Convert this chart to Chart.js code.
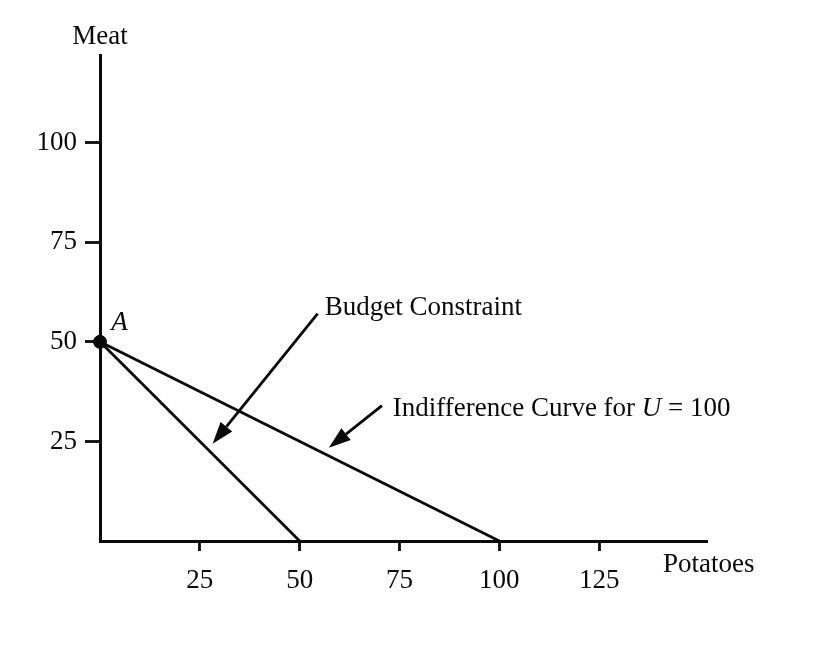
<!DOCTYPE html>
<html>
<head>
<meta charset="utf-8">
<script src="https://cdn.jsdelivr.net/npm/chart.js@4/dist/chart.umd.min.js"></script>
<style>
  html, body { margin: 0; padding: 0; background: #fff; }
</style>
</head>
<body>
<canvas id="chart" width="837" height="652"></canvas>
<script>
// Data (Potatoes on x, Meat on y)
const xTicks = [25, 50, 75, 100, 125];
const yTicks = [25, 50, 75, 100];
const budgetX = [0, 50];
const budgetY = [50, 0];
const indiffX = [0, 100];
const indiffY = [50, 0];
const pointA = [0, 50];

const FONT = 'Liberation Serif, Times New Roman, serif';
const SIZE = 27;
const INK = '#0a0a0a';

// Labels + arrows (positions in data units)
const notes = {
  budget: { text: 'Budget Constraint', x: 56.3, y: 58.4, from: [54.5, 57.1], to: [28.2, 24.4] },
  indiff: { x: 73.3, y: 33.2, from: [70.6, 34.0], to: [57.3, 23.4] }
};

function arrow(ctx, x1, y1, x2, y2) {
  const a = Math.atan2(y2 - y1, x2 - x1);
  const len = 22, hw = 7.5;
  const bx = x2 - len * Math.cos(a), by = y2 - len * Math.sin(a);
  ctx.beginPath();
  ctx.moveTo(x1, y1);
  ctx.lineTo(bx, by);
  ctx.stroke();
  ctx.beginPath();
  ctx.moveTo(x2, y2);
  ctx.lineTo(bx + hw * Math.sin(a), by - hw * Math.cos(a));
  ctx.lineTo(bx - hw * Math.sin(a), by + hw * Math.cos(a));
  ctx.closePath();
  ctx.fill();
}

const extras = {
  id: 'extras',
  afterDraw(chart) {
    const ctx = chart.ctx;
    const xs = chart.scales.x, ys = chart.scales.y;
    const px = v => xs.getPixelForValue(v), py = v => ys.getPixelForValue(v);
    ctx.save();
    ctx.fillStyle = INK;
    ctx.strokeStyle = INK;
    ctx.lineWidth = 2.8;
    ctx.textBaseline = 'middle';

    // axis titles
    ctx.font = SIZE + 'px ' + FONT;
    ctx.textAlign = 'center';
    ctx.fillText('Meat', xs.left, 37);
    ctx.textAlign = 'left';
    ctx.fillText('Potatoes', 663, 565);

    // point label
    ctx.font = 'italic ' + SIZE + 'px ' + FONT;
    ctx.fillText('A', px(2.8), py(54.8));

    // budget constraint note
    const b = notes.budget;
    ctx.font = SIZE + 'px ' + FONT;
    ctx.fillText(b.text, px(b.x), py(b.y));
    arrow(ctx, px(b.from[0]), py(b.from[1]), px(b.to[0]), py(b.to[1]));

    // indifference note with italic U
    const n = notes.indiff;
    let tx = px(n.x);
    const ty = py(n.y);
    const parts = [['Indifference Curve for ', ''], ['U', 'italic '], [' = 100', '']];
    parts.forEach(([s, st]) => {
      ctx.font = st + SIZE + 'px ' + FONT;
      ctx.fillText(s, tx, ty);
      tx += ctx.measureText(s).width;
    });
    arrow(ctx, px(n.from[0]), py(n.from[1]), px(n.to[0]), py(n.to[1]));
    ctx.restore();
  }
};

const toPts = (xa, ya) => xa.map((x, i) => ({ x: x, y: ya[i] }));

new Chart(document.getElementById('chart').getContext('2d'), {
  type: 'scatter',
  data: {
    datasets: [
      {
        label: 'Budget Constraint',
        data: toPts(budgetX, budgetY),
        showLine: true,
        borderColor: INK,
        borderWidth: 2.8,
        pointRadius: 0,
        clip: false
      },
      {
        label: 'Indifference Curve for U = 100',
        data: toPts(indiffX, indiffY),
        showLine: true,
        borderColor: INK,
        borderWidth: 2.8,
        pointRadius: 0,
        clip: false
      },
      {
        label: 'A',
        data: [{ x: pointA[0], y: pointA[1] }],
        backgroundColor: INK,
        borderColor: INK,
        pointRadius: 6.5,
        clip: false
      }
    ]
  },
  options: {
    responsive: false,
    animation: false,
    layout: { padding: { top: 55, right: 130, left: 0, bottom: 0 } },
    plugins: { legend: { display: false }, tooltip: { enabled: false } },
    scales: {
      x: {
        type: 'linear',
        min: 0,
        max: 152,
        afterBuildTicks: s => { s.ticks = xTicks.map(v => ({ value: v })); },
        afterFit: s => { s.height = 111; },
        grid: { drawOnChartArea: false, drawTicks: true, tickLength: 10, tickColor: INK, tickWidth: 2.8 },
        border: { display: true, color: INK, width: 3 },
        ticks: { font: { family: FONT, size: SIZE }, color: INK, padding: 14, maxRotation: 0 }
      },
      y: {
        type: 'linear',
        min: 0,
        max: 122,
        afterBuildTicks: s => { s.ticks = yTicks.map(v => ({ value: v })); },
        afterFit: s => { s.width = 100; },
        grid: { drawOnChartArea: false, drawTicks: true, tickLength: 15, tickColor: INK, tickWidth: 2.8 },
        border: { display: true, color: INK, width: 3 },
        ticks: { font: { family: FONT, size: SIZE }, color: INK, padding: 8 }
      }
    }
  },
  plugins: [extras]
});
</script>
</body>
</html>
